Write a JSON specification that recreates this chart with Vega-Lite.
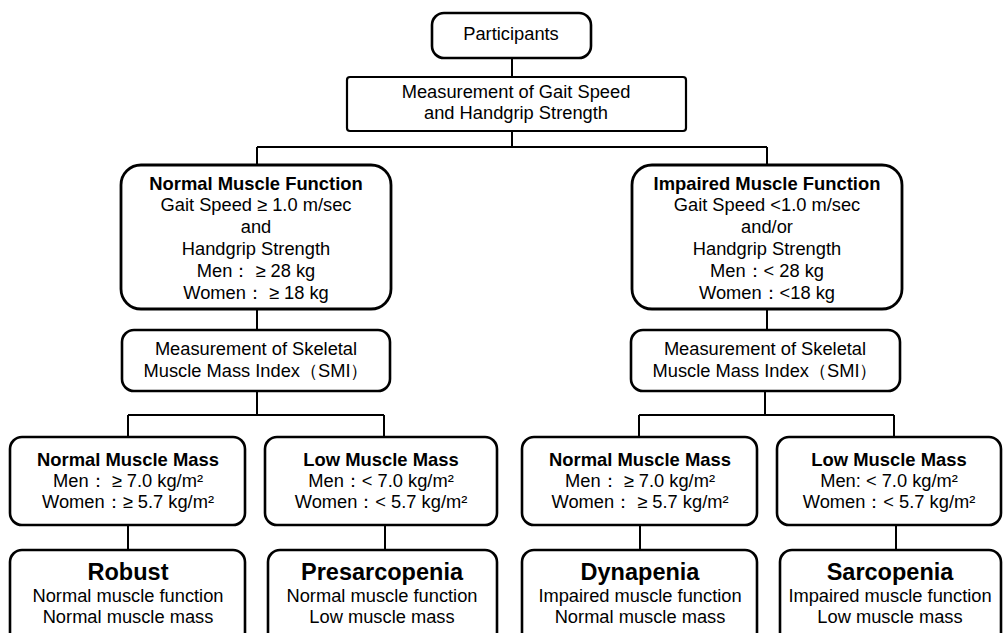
{
  "$schema": "https://vega.github.io/schema/vega-lite/v6.json",
  "width": 1003,
  "height": 633,
  "padding": 0,
  "autosize": {"type": "fit", "contains": "padding"},
  "background": "white",
  "config": {"view": {"stroke": null}},
  "datasets": {
    "boxes": [
      {"id": "participants", "shape": "round", "x": 432, "x2": 591, "y": 13, "y2": 58},
      {"id": "gait", "shape": "square", "x": 347, "x2": 686, "y": 77, "y2": 131},
      {"id": "normalfn", "shape": "big", "x": 121, "x2": 391, "y": 165, "y2": 309},
      {"id": "impairedfn", "shape": "big", "x": 632, "x2": 902, "y": 165, "y2": 309},
      {"id": "smi_l", "shape": "round", "x": 122, "x2": 390, "y": 330, "y2": 391},
      {"id": "smi_r", "shape": "round", "x": 631, "x2": 900, "y": 330, "y2": 391},
      {"id": "mass_nl", "shape": "round", "x": 10, "x2": 245, "y": 437, "y2": 525},
      {"id": "mass_ll", "shape": "round", "x": 265, "x2": 497, "y": 437, "y2": 525},
      {"id": "mass_nr", "shape": "round", "x": 522, "x2": 757, "y": 437, "y2": 525},
      {"id": "mass_lr", "shape": "round", "x": 777, "x2": 1001, "y": 437, "y2": 525},
      {"id": "robust", "shape": "round", "x": 10, "x2": 245, "y": 550, "y2": 660},
      {"id": "presarc", "shape": "round", "x": 268, "x2": 497, "y": 550, "y2": 660},
      {"id": "dynap", "shape": "round", "x": 522, "x2": 757, "y": 550, "y2": 660},
      {"id": "sarc", "shape": "round", "x": 780, "x2": 1001, "y": 550, "y2": 660}
    ],
    "links": [
      {"x": 512, "y": 58, "x2": 512, "y2": 77},
      {"x": 512, "y": 131, "x2": 512, "y2": 147},
      {"x": 257, "y": 147, "x2": 767, "y2": 147},
      {"x": 257, "y": 147, "x2": 257, "y2": 165},
      {"x": 767, "y": 147, "x2": 767, "y2": 165},
      {"x": 257, "y": 309, "x2": 257, "y2": 330},
      {"x": 767, "y": 309, "x2": 767, "y2": 330},
      {"x": 257, "y": 391, "x2": 257, "y2": 415},
      {"x": 128, "y": 415, "x2": 384, "y2": 415},
      {"x": 128, "y": 415, "x2": 128, "y2": 437},
      {"x": 384, "y": 415, "x2": 384, "y2": 437},
      {"x": 765, "y": 391, "x2": 765, "y2": 415},
      {"x": 639, "y": 415, "x2": 894, "y2": 415},
      {"x": 639, "y": 415, "x2": 639, "y2": 437},
      {"x": 894, "y": 415, "x2": 894, "y2": 437},
      {"x": 128, "y": 525, "x2": 128, "y2": 550},
      {"x": 385, "y": 525, "x2": 385, "y2": 550},
      {"x": 640, "y": 525, "x2": 640, "y2": 550},
      {"x": 896, "y": 525, "x2": 896, "y2": 550}
    ],
    "labels": [
      {"k": "body", "x": 511, "y": 35, "t": "Participants"},
      {"k": "body", "x": 516, "y": 93, "t": "Measurement of Gait Speed"},
      {"k": "body", "x": 516, "y": 114, "t": "and Handgrip Strength"},
      {"k": "title", "x": 256, "y": 184, "t": "Normal Muscle Function"},
      {"k": "body", "x": 256, "y": 206, "t": "Gait Speed ≥ 1.0 m/sec"},
      {"k": "body", "x": 256, "y": 228, "t": "and"},
      {"k": "body", "x": 256, "y": 250, "t": "Handgrip Strength"},
      {"k": "body", "x": 256, "y": 272, "t": "Men： ≥ 28 kg"},
      {"k": "body", "x": 256, "y": 294, "t": "Women： ≥ 18 kg"},
      {"k": "title", "x": 767, "y": 184, "t": "Impaired Muscle Function"},
      {"k": "body", "x": 767, "y": 206, "t": "Gait Speed <1.0 m/sec"},
      {"k": "body", "x": 767, "y": 228, "t": "and/or"},
      {"k": "body", "x": 767, "y": 250, "t": "Handgrip Strength"},
      {"k": "body", "x": 767, "y": 272, "t": "Men：< 28 kg"},
      {"k": "body", "x": 767, "y": 294, "t": "Women：<18 kg"},
      {"k": "body", "x": 256, "y": 350, "t": "Measurement of Skeletal"},
      {"k": "body", "x": 256, "y": 372, "t": "Muscle Mass Index（SMI）"},
      {"k": "body", "x": 765, "y": 350, "t": "Measurement of Skeletal"},
      {"k": "body", "x": 765, "y": 372, "t": "Muscle Mass Index（SMI）"},
      {"k": "title", "x": 128, "y": 460, "t": "Normal Muscle Mass"},
      {"k": "body", "x": 128, "y": 482, "t": "Men： ≥  7.0 kg/m²"},
      {"k": "body", "x": 128, "y": 503, "t": "Women：≥ 5.7 kg/m²"},
      {"k": "title", "x": 381, "y": 460, "t": "Low Muscle Mass"},
      {"k": "body", "x": 381, "y": 482, "t": "Men：< 7.0 kg/m²"},
      {"k": "body", "x": 381, "y": 503, "t": "Women：< 5.7 kg/m²"},
      {"k": "title", "x": 640, "y": 460, "t": "Normal Muscle Mass"},
      {"k": "body", "x": 640, "y": 482, "t": "Men： ≥ 7.0 kg/m²"},
      {"k": "body", "x": 640, "y": 503, "t": "Women： ≥ 5.7 kg/m²"},
      {"k": "title", "x": 889, "y": 460, "t": "Low Muscle Mass"},
      {"k": "body", "x": 889, "y": 482, "t": "Men: < 7.0 kg/m²"},
      {"k": "body", "x": 889, "y": 503, "t": "Women：< 5.7 kg/m²"},
      {"k": "big", "x": 128, "y": 573, "t": "Robust"},
      {"k": "body", "x": 128, "y": 597, "t": "Normal muscle function"},
      {"k": "body", "x": 128, "y": 618, "t": "Normal muscle mass"},
      {"k": "big", "x": 382, "y": 573, "t": "Presarcopenia"},
      {"k": "body", "x": 382, "y": 597, "t": "Normal muscle function"},
      {"k": "body", "x": 382, "y": 618, "t": "Low muscle mass"},
      {"k": "big", "x": 640, "y": 573, "t": "Dynapenia"},
      {"k": "body", "x": 640, "y": 597, "t": "Impaired muscle function"},
      {"k": "body", "x": 640, "y": 618, "t": "Normal muscle mass"},
      {"k": "big", "x": 890, "y": 573, "t": "Sarcopenia"},
      {"k": "body", "x": 890, "y": 597, "t": "Impaired muscle function"},
      {"k": "body", "x": 890, "y": 618, "t": "Low muscle mass"}
    ]
  },
  "encoding": {
    "x": {"field": "x", "type": "quantitative", "scale": {"domain": [0, 1003], "nice": false, "zero": false}, "axis": null},
    "y": {"field": "y", "type": "quantitative", "scale": {"domain": [0, 633], "nice": false, "zero": false, "reverse": true}, "axis": null}
  },
  "layer": [
    {
      "data": {"name": "links"},
      "mark": {"type": "rule", "stroke": "black", "strokeWidth": 2, "clip": true},
      "encoding": {"x2": {"field": "x2"}, "y2": {"field": "y2"}}
    },
    {
      "data": {"name": "boxes"},
      "transform": [{"filter": "datum.shape === 'square'"}],
      "mark": {"type": "rect", "fill": "white", "stroke": "black", "strokeWidth": 2.2, "cornerRadius": 3, "clip": true},
      "encoding": {"x2": {"field": "x2"}, "y2": {"field": "y2"}}
    },
    {
      "data": {"name": "boxes"},
      "transform": [{"filter": "datum.shape === 'round'"}],
      "mark": {"type": "rect", "fill": "white", "stroke": "black", "strokeWidth": 2.6, "cornerRadius": 12, "clip": true},
      "encoding": {"x2": {"field": "x2"}, "y2": {"field": "y2"}}
    },
    {
      "data": {"name": "boxes"},
      "transform": [{"filter": "datum.shape === 'big'"}],
      "mark": {"type": "rect", "fill": "white", "stroke": "black", "strokeWidth": 2.8, "cornerRadius": 20, "clip": true},
      "encoding": {"x2": {"field": "x2"}, "y2": {"field": "y2"}}
    },
    {
      "data": {"name": "labels"},
      "transform": [{"filter": "datum.k === 'body'"}],
      "mark": {"type": "text", "font": "Liberation Sans", "fontSize": 18.3, "fill": "black", "baseline": "middle", "align": "center"},
      "encoding": {"text": {"field": "t"}}
    },
    {
      "data": {"name": "labels"},
      "transform": [{"filter": "datum.k === 'title'"}],
      "mark": {"type": "text", "font": "Liberation Sans", "fontSize": 18.4, "fontWeight": "bold", "fill": "black", "baseline": "middle", "align": "center"},
      "encoding": {"text": {"field": "t"}}
    },
    {
      "data": {"name": "labels"},
      "transform": [{"filter": "datum.k === 'big'"}],
      "mark": {"type": "text", "font": "Liberation Sans", "fontSize": 23.5, "fontWeight": "bold", "fill": "black", "baseline": "middle", "align": "center"},
      "encoding": {"text": {"field": "t"}}
    }
  ]
}
